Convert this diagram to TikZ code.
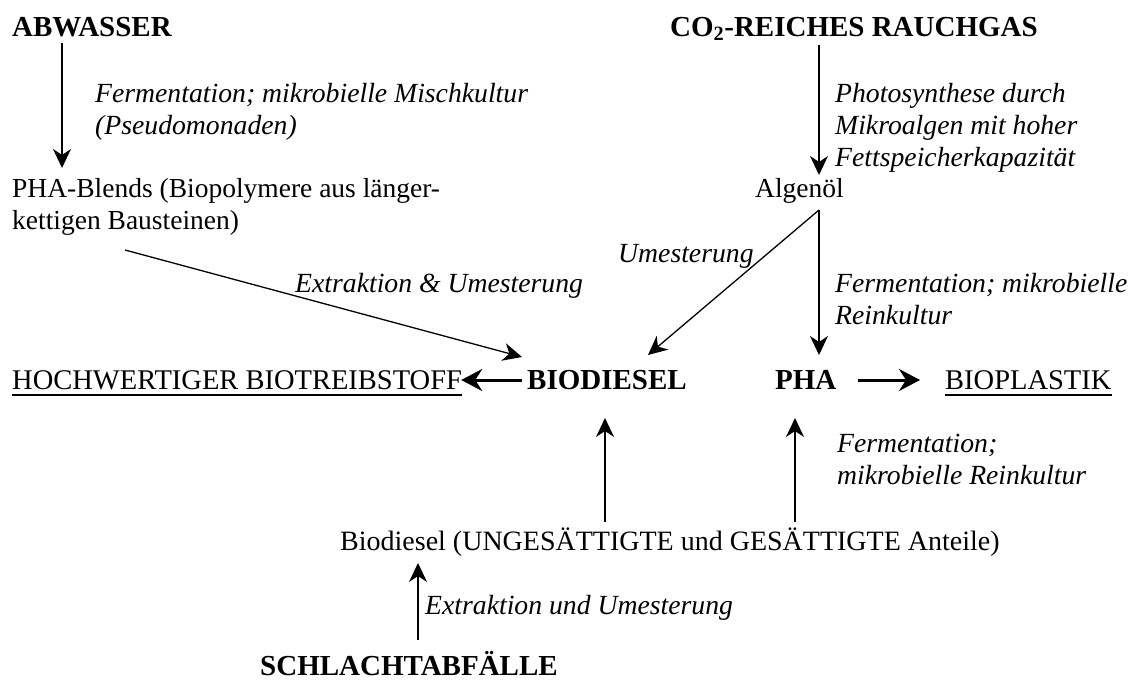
\documentclass[tikz,border=0pt]{standalone}
\usepackage{fontspec}
\setmainfont{Liberation Serif}
\usetikzlibrary{arrows.meta}
\begin{document}
\begin{tikzpicture}[x=1pt,y=-1pt,
  txt/.style={inner sep=0pt,anchor=base west,align=left,
    font=\fontsize{27.5pt}{32pt}\selectfont},
  wide/.style={txt,font=\fontsize{28.5pt}{32pt}\selectfont},
  bold/.style={txt,font=\fontsize{29pt}{32pt}\selectfont\bfseries},
  note/.style={txt,font=\fontsize{27.7pt}{32pt}\selectfont\itshape},
  arr/.style={line width=1.3pt,-{Stealth[length=19pt,width=18pt,inset=6pt]}},
  thickarr/.style={line width=3pt,-{Stealth[length=21pt,width=22pt,inset=7pt]}},
  uline/.style={line width=1.2pt}]
\useasboundingbox (0,0) rectangle (1129,680);

% sources
\node[bold] (abw) at (12,36) {ABWASSER};
\node[bold] (co2) at (670,36) {CO\textsubscript{2}-REICHES RAUCHGAS};
\node[bold] (schl) at (260,675) {SCHLACHTABFÄLLE};

% intermediates
\node[txt] (blends) at (12,229) {PHA-Blends (Biopolymere aus länger-\\kettigen Bausteinen)};
\node[txt] (alg) at (755,197) {Algenöl};
\node[txt,font=\fontsize{28pt}{32pt}\selectfont] (biod2) at (340,550) {Biodiesel (UNGESÄTTIGTE und GESÄTTIGTE Anteile)};

% main products
\node[wide] (hoch) at (12,389) {HOCHWERTIGER BIOTREIBSTOFF};
\node[bold] (bio) at (527,389) {BIODIESEL};
\node[bold] (pha) at (775,389) {PHA};
\node[wide] (plast) at (945,389) {BIOPLASTIK};
\draw[uline] ([yshift=-6pt]hoch.base west) -- ([yshift=-6pt]hoch.base east);
\draw[uline] ([yshift=-6pt]plast.base west) -- ([yshift=-6pt]plast.base east);

% process labels (multi-line nodes sit on their last baseline)
\node[note] (f1) at (95,134) {Fermentation; mikrobielle Mischkultur\\(Pseudomonaden)};
\node[note] (photo) at (835,166) {Photosynthese durch\\Mikroalgen mit hoher\\Fettspeicherkapazität};
\node[note] (umest) at (618,262) {Umesterung};
\node[note] (extr) at (295,292) {Extraktion \& Umesterung};
\node[note] (ferm2) at (835,324) {Fermentation; mikrobielle\\Reinkultur};
\node[note] (ferm3) at (837,484) {Fermentation;\\mikrobielle Reinkultur};
\node[note] (extr2) at (425,614) {Extraktion und Umesterung};

% connectors
\draw[arr] ([shift={(50,7)}]abw.base west) -- ([shift={(50,-61)}]blends.base west);
\draw[arr] ([shift={(149,9)}]co2.base west) -- ([shift={(64,-22)}]alg.base west);
\coordinate (fork) at ([shift={(64,13)}]alg.base west);
\draw[arr] (fork) -- ([shift={(121,-34)}]bio.base west);
\draw[arr] (fork) -- ([shift={(44,-34)}]pha.base west);
\draw[arr] ([shift={(113,21)}]blends.base west) -- ([shift={(-5,-32)}]bio.base west);
\draw[thickarr] ([xshift=-5pt,yshift=9pt]bio.base west) -- ([xshift=-1pt,yshift=9pt]hoch.base east);
\draw[thickarr] ([xshift=21pt,yshift=9pt]pha.base east) -- ([xshift=-25pt,yshift=9pt]plast.base west);
\draw[arr] ([shift={(265,-28)}]biod2.base west) -- ([shift={(78,29)}]bio.base west);
\draw[arr] ([shift={(455,-28)}]biod2.base west) -- ([shift={(20,29)}]pha.base west);
\draw[arr] ([shift={(158,-35)}]schl.base west) -- ([shift={(78,13)}]biod2.base west);
\end{tikzpicture}
\end{document}
